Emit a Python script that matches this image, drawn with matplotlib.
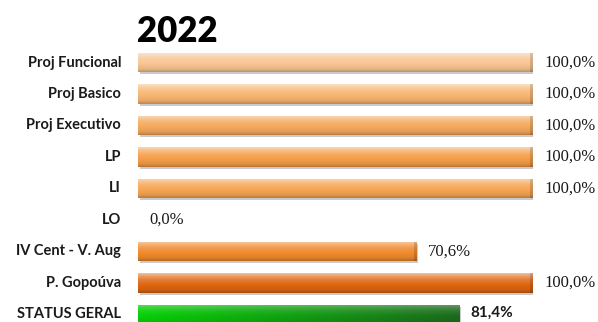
import numpy as np
import matplotlib
matplotlib.use("Agg")
import matplotlib.pyplot as plt
from matplotlib.colors import to_rgb
from matplotlib.transforms import offset_copy

# Progress by stage (percent)
categories = ["Proj Funcional", "Proj Basico", "Proj Executivo", "LP", "LI",
              "LO", "IV Cent - V. Aug", "P. Gopoúva", "STATUS GERAL"]
values = [100.0, 100.0, 100.0, 100.0, 100.0, 0.0, 70.6, 100.0, 81.4]
value_labels = ["100,0%", "100,0%", "100,0%", "100,0%", "100,0%",
                "0,0%", "70,6%", "100,0%", "81,4%"]
title = "2022"

bar_colors = ["#F9C592", "#F7B470", "#F5A85C", "#F49D48", "#F6A552",
              "#F39A45", "#F08A2C", "#DF6510", "#12C012"]

W, H = 598, 322
fig = plt.figure(figsize=(W / 100, H / 100), dpi=100)

x0_px, x1_px = 138, 533
row_px = 31.5
first_center = 62.5
n = len(categories)
top_px = first_center - row_px / 2
bot_px = top_px + row_px * n
ax = fig.add_axes([x0_px / W, 1 - bot_px / H, (x1_px - x0_px) / W, (bot_px - top_px) / H])
ax.set_xlim(0, 100)
ax.set_ylim(n - 0.5, -0.5)
ax.axis("off")

bh = 0.62
ypos = np.arange(n)


def shade(c, f):
    c = np.array(to_rgb(c))
    if f >= 0:
        return c + (1 - c) * f
    return c * (1 + f)


# drop shadows
shadow = ax.barh(ypos + 0.07, values, height=bh, left=0.4, color="#8a8a8a",
                 alpha=0.45, zorder=1, linewidth=0)
bars = ax.barh(ypos, values, height=bh, color=bar_colors, zorder=2, linewidth=0)

stops_t = np.array([0.0, 0.12, 0.35, 0.6, 0.85, 1.0])
stops_f = np.array([0.6, 0.4, 0.14, 0.0, -0.08, -0.25])
t = np.linspace(0, 1, 64)
prof = np.interp(t, stops_t, stops_f)

for i, (b, c) in enumerate(zip(bars, bar_colors)):
    w = b.get_width()
    if w <= 0:
        continue
    y0 = b.get_y()
    y1 = y0 + b.get_height()
    ncol = max(int(round(w * 4)), 8)
    if i == n - 1:
        left = np.array(to_rgb("#06D006"))
        right = np.array(to_rgb("#1C6A1C"))
        s = np.linspace(0, 1, ncol)[None, :, None]
        base = left[None, None, :] * (1 - s) + right[None, None, :] * s
        f = (prof * 0.6)[:, None, None]
        img = np.where(f >= 0, base + (1 - base) * f, base * (1 + f))
    else:
        img = np.array([shade(c, f) for f in prof])[:, None, :]
        img = np.repeat(img, ncol, axis=1)
        # darker bevel at the right end
        img[:, -3:, :] *= 0.85
    im = ax.imshow(np.clip(img, 0, 1), extent=(0, w, y1, y0), origin="upper",
                   aspect="auto", zorder=3, interpolation="bilinear")
    im.set_clip_path(b)

ax.set_xlim(0, 100)
ax.set_ylim(n - 0.5, -0.5)

# category labels
for i, lab in enumerate(categories):
    tr = offset_copy(ax.transData, fig=fig, x=-17, y=0, units="dots")
    ax.text(0, i, lab, transform=tr, ha="right", va="center",
            fontsize=10.5, fontweight="bold", family="Lato", color="#1a1a1a",
            clip_on=False)

# value labels
for i, (v, lab) in enumerate(zip(values, value_labels)):
    if i == n - 1:
        tr = offset_copy(ax.transData, fig=fig, x=11, y=2, units="dots")
        ax.text(v, i, lab, transform=tr, ha="left", va="center", fontsize=11,
                fontweight="bold", family="Lato", color="#1a1a1a", clip_on=False)
    else:
        tr = offset_copy(ax.transData, fig=fig, x=11, y=0, units="dots")
        ax.text(v, i, lab, transform=tr, ha="left", va="center", fontsize=12,
                family="Liberation Serif", color="#1a1a1a", clip_on=False)

fig.text(137 / W, 1 - 42 / H, title, ha="left", va="baseline", fontsize=25,
         fontweight="heavy", family="Lato", color="black")

fig.savefig("out.png", dpi=100)
